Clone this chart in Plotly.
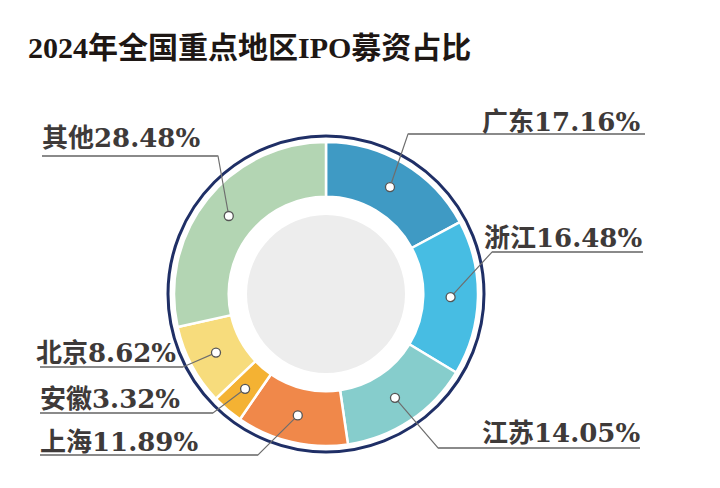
import math
import plotly.graph_objects as go

# ---- data ----
regions = ['广东', '浙江', '江苏', '上海', '安徽', '北京', '其他']
shares = [17.16, 16.48, 14.05, 11.89, 3.32, 8.62, 28.48]
colors = ['#3F9AC4', '#47BDE3', '#86CDCC', '#F0884A', '#F4B233', '#F7DC7C', '#B3D5B3']
title_text = '2024年全国重点地区IPO募资占比'

# ---- layout geometry (window pixels) ----
W, H = 720, 488
OFF = 8                 # page body margin offset
CX, CY = 326, 294       # donut centre
R_OUT = 152             # outer radius of coloured ring
HOLE = 0.64
R_RING = 158            # navy ring
R_GRAY = 79             # inner grey disc

# label layout: side, text anchor x, text centre y, underline y, underline far end x, elbow x
label_layout = {
    '广东': dict(side='right', tx=642, ty=122, uy=134, ux=645, ex=408),
    '浙江': dict(side='right', tx=644, ty=238, uy=252, ux=643, ex=492),
    '江苏': dict(side='right', tx=642, ty=433, uy=448, ux=640, ex=438),
    '上海': dict(side='left', tx=38, ty=442, uy=455, ux=40, ex=258),
    '安徽': dict(side='left', tx=38, ty=399, uy=413, ux=40, ex=213),
    '北京': dict(side='left', tx=34, ty=353, uy=367, ux=40, ex=183),
    '其他': dict(side='left', tx=40, ty=138, uy=156, ux=42, ex=218),
}

fig = go.Figure()

fx, fy = CX - OFF, CY - OFF   # centre in figure pixels
fig.add_trace(go.Pie(
    labels=regions, values=shares, sort=False, direction='clockwise', rotation=0,
    hole=HOLE, marker=dict(colors=colors, line=dict(color='white', width=2.5)),
    textinfo='none', hoverinfo='label+percent', showlegend=False,
    domain=dict(x=[(fx - R_OUT) / W, (fx + R_OUT) / W],
                y=[(H - fy - R_OUT) / H, (H - fy + R_OUT) / H]),
))

shapes = []
shapes.append(dict(type='circle', xref='x', yref='y', x0=CX - R_RING, x1=CX + R_RING,
                   y0=CY - R_RING, y1=CY + R_RING, line=dict(color='#1F2F66', width=3),
                   fillcolor='rgba(0,0,0,0)', layer='below'))
shapes.append(dict(type='circle', xref='x', yref='y', x0=CX - R_GRAY, x1=CX + R_GRAY,
                   y0=CY - R_GRAY, y1=CY + R_GRAY, line=dict(width=0),
                   fillcolor='#EDEDED', layer='above'))

annotations = []
total = sum(shares)
cum = 0.0
r_dot = (R_OUT + R_OUT * HOLE) / 2
label_font = dict(family='DejaVu Serif, Noto Sans CJK SC, serif', size=26, color='#3E3A39')
for name, val in zip(regions, shares):
    mid = (cum + val / 2) / total * 2 * math.pi
    cum += val
    dx = CX + r_dot * math.sin(mid)
    dy = CY - r_dot * math.cos(mid)
    L = label_layout[name]
    shapes.append(dict(type='path', xref='x', yref='y', layer='above',
                       path=f'M {dx:.1f},{dy:.1f} L {L["ex"]},{L["uy"]} L {L["ux"]},{L["uy"]}',
                       line=dict(color='#6E6E6E', width=1.2)))
    shapes.append(dict(type='line', xref='x', yref='y', layer='above',
                       x0=L['ex'], x1=L['ux'], y0=L['uy'], y1=L['uy'],
                       line=dict(color='#8A8A8A', width=2)))
    shapes.append(dict(type='circle', xref='x', yref='y', layer='above',
                       x0=dx - 4.5, x1=dx + 4.5, y0=dy - 4.5, y1=dy + 4.5,
                       fillcolor='white', line=dict(color='#555555', width=1.3)))
    annotations.append(dict(
        x=L['tx'], y=L['ty'], xref='x', yref='y', showarrow=False,
        xanchor='right' if L['side'] == 'right' else 'left', yanchor='middle',
        text=f'<b>{name}{val:.2f}%</b>', font=label_font))

annotations.append(dict(
    x=26, y=47, xref='x', yref='y', showarrow=False, xanchor='left', yanchor='middle',
    text=f'<b>{title_text}</b>',
    font=dict(family='Liberation Serif, Noto Sans CJK SC, serif', size=30, color='#1E1714')))

fig.update_layout(
    width=W, height=H, margin=dict(l=0, r=0, t=0, b=0),
    paper_bgcolor='white', plot_bgcolor='white',
    xaxis=dict(range=[OFF, W + OFF], visible=False, fixedrange=True, domain=[0, 1]),
    yaxis=dict(range=[H + OFF, OFF], visible=False, fixedrange=True, domain=[0, 1]),
    shapes=shapes, annotations=annotations, showlegend=False,
)

fig.write_html('out.html')
